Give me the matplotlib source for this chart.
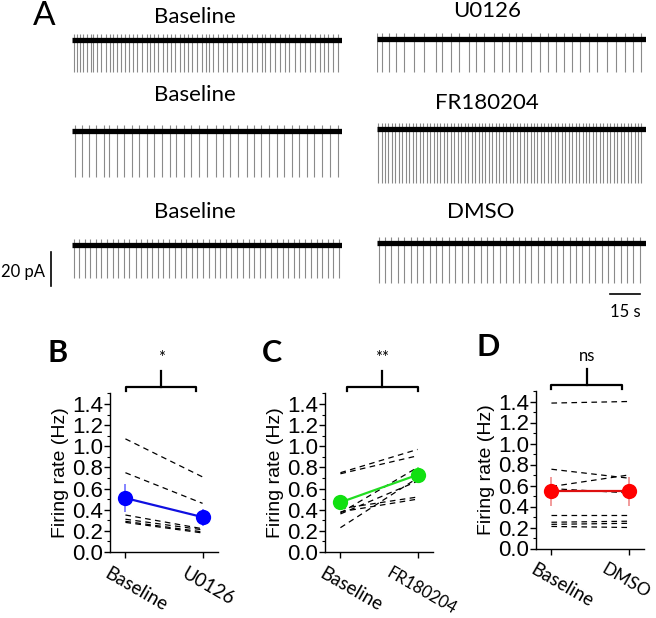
import matplotlib
matplotlib.use('Agg')
import matplotlib.pyplot as plt
import matplotlib.transforms as mtransforms
import numpy as np

# ---------------- data ----------------
# Panel A: spike times (s) of example recordings
spk_base1 = [1.0, 2.7, 4.0, 5.7, 7.3, 9.3, 10.7, 12.7, 14.3, 16.8, 19.0, 20.7, 22.7, 24.7, 26.5,
             28.7, 30.7, 32.7, 34.8, 37.3, 39.0, 41.2, 43.2, 45.3, 47.3, 49.5, 51.5, 54.0, 56.0,
             58.2, 60.2, 62.3, 64.8, 66.8, 68.7, 70.7, 73.2, 75.3, 77.3, 79.8, 82.3, 84.8, 87.3,
             89.8, 92.3, 94.8, 96.5, 99.0, 101.5, 104.0, 106.5, 108.7, 111.5, 114.0, 116.5, 119.0,
             121.5, 124.0, 126.0, 128.2, 130.7, 133.2]
spk_u0126 = [0.2, 2.7, 6.0, 9.3, 13.5, 18.5, 23.5, 29.3, 32.7, 36.8, 41.0, 46.0, 49.3, 53.5, 58.5,
             62.7, 66.0, 69.3, 72.3, 76.8, 81.3, 85.7, 89.3, 93.5, 97.7, 101.5, 106.0, 110.2,
             115.2, 119.3, 124.0, 128.0, 131.8]
spk_base2 = [1.5, 5.0, 8.5, 12.0, 15.8, 18.3, 22.5, 26.0, 29.8, 33.5, 37.5, 41.0, 45.2, 48.8, 52.0,
             56.2, 59.7, 63.5, 67.6, 71.8, 75.5, 79.0, 83.2, 87.3, 90.8, 94.5, 98.7, 102.4, 106.0,
             110.1, 113.6, 117.4, 121.1, 125.2, 128.8, 133.0]
spk_fr = [0.5, 2.3, 4.0, 5.6, 7.5, 9.2, 10.8, 12.7, 14.3, 16.2, 17.8, 19.5, 21.4, 23.0, 24.8, 26.5,
          28.3, 30.0, 31.6, 33.5, 35.2, 36.9, 38.7, 40.3, 42.1, 43.9, 45.5, 47.3, 49.0, 50.8, 52.5,
          54.2, 56.0, 57.7, 59.4, 61.2, 62.9, 64.6, 66.4, 68.1, 69.8, 71.6, 73.3, 75.0, 76.8, 78.5,
          80.2, 82.0, 83.7, 85.4, 87.2, 88.9, 90.6, 92.4, 94.1, 95.8, 97.6, 99.3, 101.0, 102.8,
          104.5, 106.2, 108.0, 109.7, 111.4, 113.2, 114.9, 116.6, 118.4, 120.1, 121.8, 123.6,
          125.3, 127.0, 128.8, 130.5, 132.2]
spk_base3 = [0.8, 3.5, 6.4, 9.0, 12.1, 14.6, 17.5, 20.3, 23.2, 26.0, 28.7, 31.8, 34.4, 37.3, 40.0,
             43.1, 45.7, 48.6, 51.4, 54.3, 57.0, 60.1, 62.7, 65.6, 68.4, 71.3, 74.0, 77.1, 79.7,
             82.6, 85.4, 88.3, 91.0, 94.1, 96.7, 99.6, 102.4, 105.3, 108.0, 111.1, 113.7, 116.6,
             119.4, 122.3, 125.0, 128.1, 130.7, 133.6]
spk_dmso = [1.0, 4.2, 7.1, 10.5, 13.6, 16.8, 19.9, 23.2, 26.3, 29.6, 32.7, 35.9, 39.0, 42.3, 45.4,
            48.7, 51.8, 55.0, 58.1, 61.4, 64.5, 67.8, 70.9, 74.1, 77.2, 80.5, 83.6, 86.9, 90.0,
            93.2, 96.3, 99.6, 102.7, 106.0, 109.1, 112.3, 115.4, 118.7, 121.8, 125.1, 128.2, 131.4]
# spike amplitude (pA, downward) per trace
amp_base1, amp_u0126, amp_base2, amp_fr, amp_base3, amp_dmso = 19, 19.5, 27, 32, 19.5, 23.5
trace_titles = ["Baseline", "U0126", "Baseline", "FR180204", "Baseline", "DMSO"]
scale_pA = 20
scale_s = 15

# Panels B-D: firing rates (Hz)
groups_B = ["Baseline", "U0126"]
cells_B_base = [1.07, 0.75, 0.35, 0.31, 0.29, 0.28]
cells_B_drug = [0.71, 0.46, 0.22, 0.21, 0.19, 0.18]
mean_B = [0.51, 0.33]
sem_B = [0.135, 0.08]

groups_C = ["Baseline", "FR180204"]
cells_C_base = [0.75, 0.74, 0.41, 0.38, 0.37, 0.36, 0.23]
cells_C_drug = [0.97, 0.91, 0.52, 0.50, 0.80, 0.67, 0.70]
mean_C = [0.47, 0.73]
sem_C = [0.07, 0.07]

groups_D = ["Baseline", "DMSO"]
cells_D_base = [1.385, 0.755, 0.59, 0.57, 0.32, 0.25, 0.23, 0.21]
cells_D_drug = [1.40, 0.67, 0.70, 0.53, 0.32, 0.26, 0.24, 0.20]
mean_D = [0.545, 0.545]
sem_D = [0.14, 0.14]

sig_labels = ["*", "**", "ns"]

# ---------------- figure ----------------
W, H = 656, 618
fig = plt.figure(figsize=(W / 100, H / 100), dpi=100)
CAL = ['Lato', 'DejaVu Sans']
ARI = ['Liberation Sans', 'DejaVu Sans']


def ax_px(l, t, r, b):
    return fig.add_axes([l / W, 1 - b / H, (r - l) / W, (b - t) / H])


def ftext(x, y, s, **kw):
    fig.text(x / W, 1 - y / H, s, **kw)


PX_PER_PA = 1.7
PX_PER_S = 2.0


def trace(x0, ybase, dur, spikes, amp):
    above, below = 15, 60
    ax = ax_px(x0, ybase - above, x0 + dur * PX_PER_S, ybase + below)
    ax.set_xlim(0, dur)
    ax.set_ylim(-below / PX_PER_PA, above / PX_PER_PA)
    ax.axis('off')
    ax.vlines(spikes, -np.asarray(amp, float), 3.6, color='#8a8a8a', lw=0.8, zorder=1)
    ax.plot([0, dur], [0, 0], color='black', lw=3.8, solid_capstyle='butt', zorder=2)
    return ax


trace(72, 40, 135, spk_base1, amp_base1)
trace(377, 39, 134.5, spk_u0126, amp_u0126)
trace(72, 131, 135, spk_base2, amp_base2)
trace(377, 129, 134.5, spk_fr, amp_fr)
ax_b3 = trace(72, 245, 135, spk_base3, amp_base3)
ax_dm = trace(377, 243, 134.5, spk_dmso, amp_dmso)

# scale bars
ax_b3.plot([-10.5, -10.5], [-4.2, -4.2 - scale_pA], color='black', lw=1.2, clip_on=False)
ax_dm.plot([116.5, 116.5 + scale_s], [-30, -30], color='black', lw=1.2, clip_on=False)
ftext(45, 272, f"{scale_pA} pA", family=CAL, fontsize=12, ha='right', va='center')
ftext(625, 312, f"{scale_s} s", family=CAL, fontsize=12, ha='center', va='center')

title_pos = [(195, 17), (487, 11), (195, 95), (487, 103), (195, 212), (481, 212)]
for (x, y), s in zip(title_pos, trace_titles):
    ftext(x, y, s, family=CAL, fontsize=16, ha='center', va='center')
ftext(33, 16, "A", family=CAL, fontsize=24, ha='left', va='center')


def panel(l, t, r, b, groups, base, drug, mean, sem, color, ecolor, lcolor, letter, lpos, sig, brk,
          lab_shift=(-15, -15), lab_size=(13.5, 13.5)):
    ax = ax_px(l, t, r, b)
    ax.set_xlim(-0.2, 1.2)
    ax.set_ylim(0, 1.5)
    for s in ['top', 'right']:
        ax.spines[s].set_visible(False)
    for s in ['left', 'bottom']:
        ax.spines[s].set_linewidth(1.0)
    for y0, y1 in zip(base, drug):
        ax.plot([0, 1], [y0, y1], color='black', lw=0.9, dashes=(4.5, 3.5), zorder=2)
    ax.errorbar([0, 1], mean, yerr=sem, fmt='none', ecolor=ecolor, elinewidth=1.2, capsize=0, zorder=3)
    ax.plot([0, 1], mean, color=lcolor, lw=1.6, zorder=4)
    ax.plot([0, 1], mean, 'o', color=color, markersize=11, markeredgewidth=0, zorder=5)
    ax.set_yticks(np.arange(0, 1.41, 0.2))
    ax.set_yticks(np.arange(0, 1.51, 0.1), minor=True)
    ax.set_yticklabels([f"{v:.1f}" for v in np.arange(0, 1.41, 0.2)], family=ARI, fontsize=16)
    ax.tick_params(axis='y', which='major', direction='out', length=4, width=1, pad=1)
    ax.tick_params(axis='y', which='minor', direction='out', length=2.5, width=0.8)
    ax.set_xticks([0, 1])
    ax.set_xticklabels(groups, family=CAL, fontsize=13.5, rotation=-30, ha='left',
                       rotation_mode='anchor')
    ax.tick_params(axis='x', direction='out', length=4, width=1, pad=5)
    for lab, dx, fs in zip(ax.get_xticklabels(), lab_shift, lab_size):
        lab.set_fontsize(fs)
        lab.set_transform(lab.get_transform() + mtransforms.ScaledTranslation(dx / 100, 0, fig.dpi_scale_trans))
    ax.set_ylabel("Firing rate (Hz)", family=ARI, fontsize=14, labelpad=2)
    # bracket
    hpx = b - t
    tr = mtransforms.blended_transform_factory(ax.transData, ax.transAxes)
    x0, x1 = brk
    yh = 1 + 6.5 / hpx
    ye = 1 + 2.5 / hpx
    ys = 1 + 22 / hpx
    ax.plot([x0, x0, x1, x1], [ye, yh, yh, ye], color='black', lw=1.6, transform=tr, clip_on=False,
            solid_joinstyle='round')
    xm = (x0 + x1) / 2
    ax.plot([xm, xm], [yh, ys], color='black', lw=1.6, transform=tr, clip_on=False)
    ax.text(xm, 1 + 35 / hpx, sig, transform=tr, ha='center', va='center', family=CAL, fontsize=12)
    ftext(lpos[0], lpos[1], letter, family=CAL, fontsize=22, fontweight='bold', ha='center', va='center')
    return ax


panel(110, 393.4, 218, 552, groups_B, cells_B_base, cells_B_drug, mean_B, sem_B,
      '#0000FF', '#7070FF', '#1010E0', 'B', (58, 353), sig_labels[0], (0.01, 0.92))
panel(325, 393.4, 433, 552, groups_C, cells_C_base, cells_C_drug, mean_C, sem_C,
      '#11E011', '#70F070', '#22DD22', 'C', (272, 353), sig_labels[1], (0.09, 1.0),
      lab_shift=(-15, -26), lab_size=(13.5, 12))
panel(536, 391, 644, 548.5, groups_D, cells_D_base, cells_D_drug, mean_D, sem_D,
      '#FF0000', '#F08A8A', '#DD1010', 'D', (488, 347), sig_labels[2], (0.0, 0.92),
      lab_shift=(-15, -22), lab_size=(13.5, 12.5))

fig.savefig("out.png", dpi=100)
